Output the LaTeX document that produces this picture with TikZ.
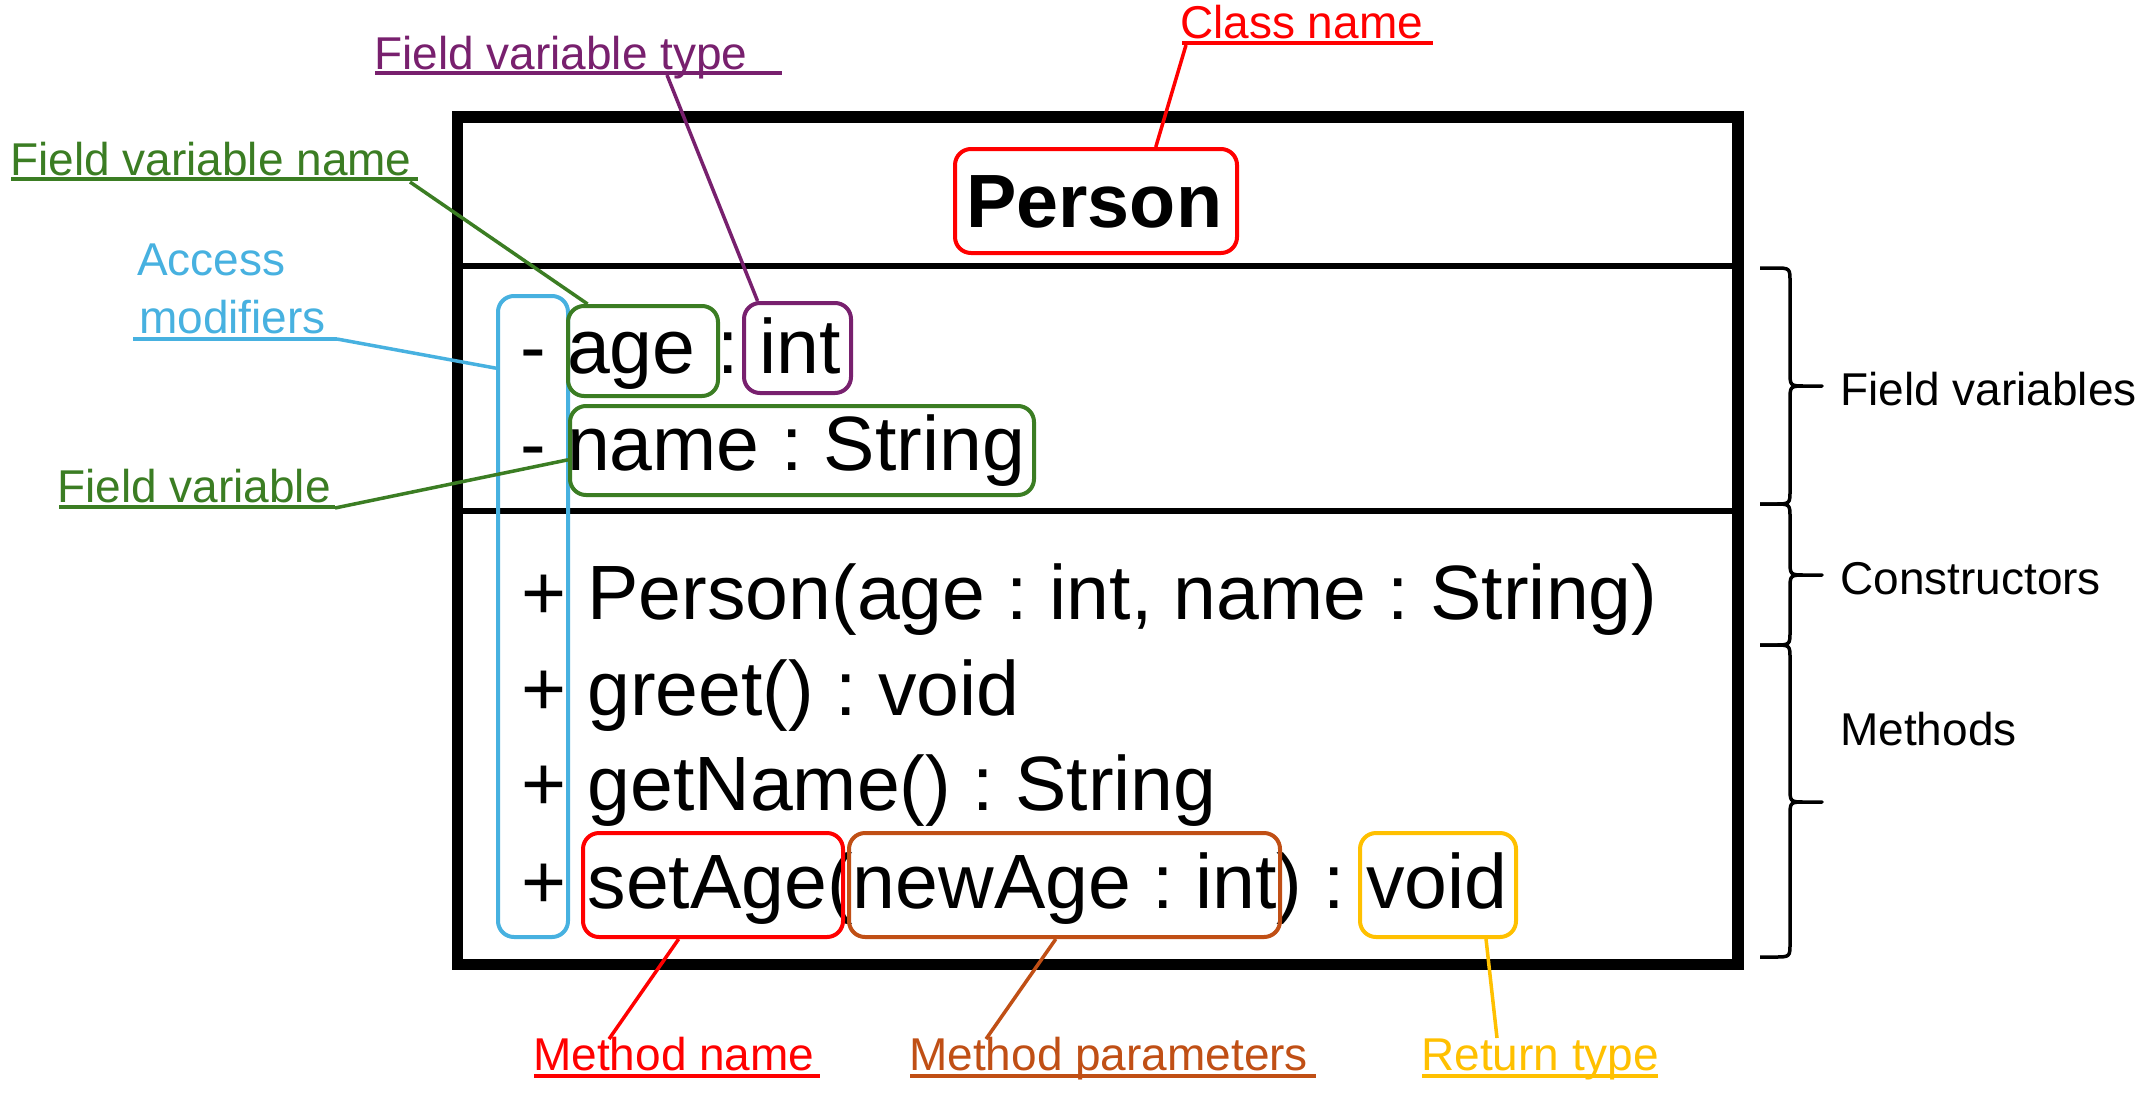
\documentclass[tikz,border=0pt]{standalone}
\usepackage{fontspec}
\setmainfont{Liberation Sans}
\usetikzlibrary{calc}
\definecolor{cRed}{HTML}{FF0000}
\definecolor{cGreen}{HTML}{3B7D23}
\definecolor{cPurple}{HTML}{78206E}
\definecolor{cBlue}{HTML}{47B1E0}
\definecolor{cBrown}{HTML}{C04F15}
\definecolor{cYellow}{HTML}{FFC000}
\frenchspacing
\newcommand\RBrace[3]{%
  \draw[brc] (1760,#1) -- (1774,#1) .. controls (1790,#1) .. (1790,{#1+14})
    -- (1790,{#2-14}) .. controls (1790,#2) .. (1806,#2) -- (1822,#2)
    -- (1806,#2) .. controls (1790,#2) .. (1790,{#2+14})
    -- (1790,{#3-14}) .. controls (1790,#3) .. (1774,#3) -- (1760,#3);}
\begin{document}
\begin{tikzpicture}[x=1pt,y=-1pt,
  uml/.style={anchor=base west, inner sep=0pt, font=\fontsize{77}{90}\selectfont\frenchspacing},
  lbl/.style={anchor=base west, inner sep=0pt, font=\fontsize{46}{55}\selectfont},
  hbox/.style={draw, rounded corners=16pt, line width=4pt, inner sep=0pt},
  lead/.style={line width=3.5pt},
  uline/.style={line width=4pt},
  brc/.style={line width=3.5pt, line join=round}]
\useasboundingbox (0,0) rectangle (2151,1103);
\fill[white] (0,0) rectangle (2151,1103);

% class box
\node[draw, line width=11.5pt, minimum width=1280.5pt, minimum height=847.5pt, inner sep=0pt] (cls) at (1097.75,540.75) {};
\coordinate (d1) at (0,266);
\coordinate (d2) at (0,511);
\draw[line width=6.5pt] (cls.west |- d1) -- (cls.east |- d1);
\draw[line width=6.5pt] (cls.west |- d2) -- (cls.east |- d2);

% texts of the class
\node[anchor=base west, inner sep=0pt, font=\fontsize{75.5}{88}\selectfont\bfseries] (title) at (966,227) {Person};
\node[uml] (r1) at (520,373) {- age : int};
\node[uml] (r2) at (520,470) {- name : String};
\node[uml] (r3) at (521,619) {+ Person(age : int, name : String)};
\node[uml] (r4) at (521,715) {+ greet() : void};
\node[uml] (r5) at (521,810) {+ getName() : String};
\node[uml] (r6) at (521,908) {+ setAge(newAge : int) : void};

% highlight boxes
\node[hbox, draw=cBlue, minimum width=70pt, minimum height=641pt] (bAcc) at (533,616.5) {};
\node[hbox, draw=cGreen, minimum width=150pt, minimum height=90pt] (bAge) at (643,351) {};
\node[hbox, draw=cPurple, minimum width=107pt, minimum height=90pt] (bInt) at (797.5,348) {};
\node[hbox, draw=cGreen, minimum width=464pt, minimum height=89pt] (bName) at (802,450.5) {};
\node[hbox, draw=cRed, minimum width=282pt, minimum height=104pt] (bPerson) at (1096,201) {};
\node[hbox, draw=cRed, minimum width=260pt, minimum height=104pt] (bSet) at (713,885) {};
\node[hbox, draw=cBrown, minimum width=431pt, minimum height=104pt] (bPar) at (1064.5,885) {};
\node[hbox, draw=cYellow, minimum width=156pt, minimum height=104pt] (bVoid) at (1438,885) {};

% annotation labels
\node[lbl, text=cRed] (lClass) at (1180,38) {Class name};
\node[lbl, text=cPurple] (lType) at (374,69) {Field variable type};
\node[lbl, text=cGreen] (lFName) at (10,175) {Field variable name};
\node[lbl, text=cBlue] (lAcc1) at (137,275) {Access};
\node[lbl, text=cBlue] (lAcc2) at (139,333) {modifiers};
\node[lbl, text=cGreen] (lFVar) at (57,502) {Field variable};
\node[lbl, text=cRed] (lMName) at (533,1070) {Method name};
\node[lbl, text=cBrown] (lMPar) at (909,1070) {Method parameters};
\node[lbl, text=cYellow] (lRet) at (1421,1070) {Return type};
\node[lbl] (lFV) at (1840,405) {Field variables};
\node[lbl] (lCon) at (1840,594) {Constructors};
\node[lbl] (lMeth) at (1840,745) {Methods};

% underlines
\coordinate (uClassA) at (1182,43);   \coordinate (uClassB) at (1433,43);
\coordinate (uTypeA) at (375,73);     \coordinate (uTypeB) at (782,73);
\coordinate (uFNameA) at (11,179);    \coordinate (uFNameB) at (418,179);
\coordinate (uAccA) at (133,339);     \coordinate (uAccB) at (337,339);
\coordinate (uFVarA) at (59,507);     \coordinate (uFVarB) at (335,507);
\coordinate (uMNameA) at (534,1076);  \coordinate (uMNameB) at (820,1076);
\coordinate (uMParA) at (910,1076);   \coordinate (uMParB) at (1316,1076);
\coordinate (uRetA) at (1422,1076);   \coordinate (uRetB) at (1658,1076);
\draw[uline, cRed] (uClassA) -- (uClassB);
\draw[uline, cPurple] (uTypeA) -- (uTypeB);
\draw[uline, cGreen] (uFNameA) -- (uFNameB);
\draw[uline, cBlue] (uAccA) -- (uAccB);
\draw[uline, cGreen] (uFVarA) -- (uFVarB);
\draw[uline, cRed] (uMNameA) -- (uMNameB);
\draw[uline, cBrown] (uMParA) -- (uMParB);
\draw[uline, cYellow] (uRetA) -- (uRetB);

% leaders
\coordinate (sClass) at (1186,45);
\coordinate (sType) at (667,75);
\coordinate (sFName) at (410,182);
\coordinate (sFVar) at (335,508);
\coordinate (sMName) at (609,1039);
\coordinate (sMPar) at (986,1039);
\coordinate (sRet) at (1497,1038);
\draw[lead, cRed] (sClass) -- ($(bPerson.north west)!0.709!(bPerson.north east)$);
\draw[lead, cPurple] (sType) -- ($(bInt.north west)!0.14!(bInt.north east)$);
\draw[lead, cGreen] (sFName) -- ($(bAge.north west)!0.14!(bAge.north east)$);
\draw[lead, cBlue] (uAccB) -- ($(bAcc.north west)!0.115!(bAcc.south west)$);
\draw[lead, cGreen] (sFVar) -- ($(bName.north west)!0.6!(bName.south west)$);
\draw[lead, cRed] (sMName) -- ($(bSet.south west)!0.37!(bSet.south east)$);
\draw[lead, cBrown] (sMPar) -- ($(bPar.south west)!0.48!(bPar.south east)$);
\draw[lead, cYellow] (sRet) -- ($(bVoid.south west)!0.8!(bVoid.south east)$);

% braces
\RBrace{268}{386}{504}
\RBrace{504}{575}{645}
\RBrace{645}{802}{957}
\end{tikzpicture}
\end{document}
